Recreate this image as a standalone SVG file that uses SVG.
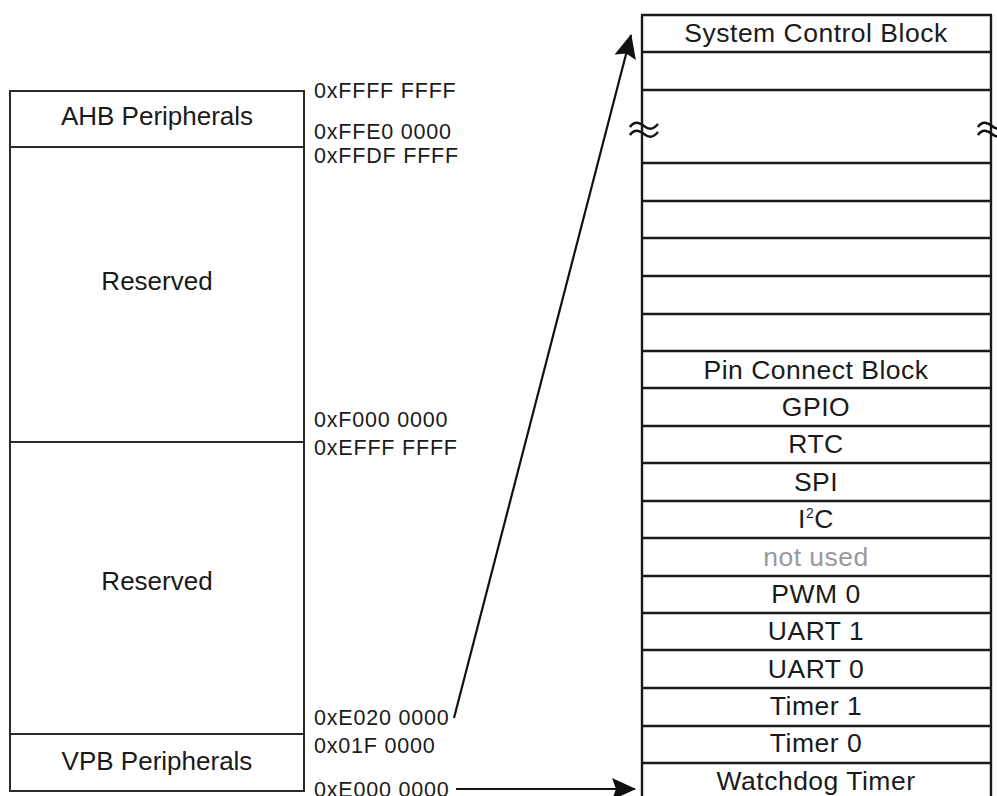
<svg xmlns="http://www.w3.org/2000/svg" width="997" height="796" viewBox="0 0 997 796">
<defs>
<style>
.box{fill:#fff;stroke:#2a2a2a;stroke-width:2}
.ln{stroke:#1a1a1a;stroke-width:2.4;fill:none}
.lbl{font-family:"Liberation Sans",Arial,sans-serif;font-size:26px;fill:#1a1a1a;text-anchor:middle}
.rl{font-family:"Liberation Sans",Arial,sans-serif;font-size:26.5px;fill:#1a1a1a;text-anchor:middle;letter-spacing:0.5px}
.addr{font-family:"Liberation Sans",Arial,sans-serif;font-size:21.5px;fill:#1a1a1a;letter-spacing:0.8px}
.gray{fill:#999}
.wave{stroke:#111;stroke-width:2.6;fill:none}
.conn{stroke:#111;stroke-width:2.2;fill:none}
</style>
<marker id="ah" markerUnits="userSpaceOnUse" viewBox="0 0 24 22" refX="23" refY="11" markerWidth="24" markerHeight="22" orient="auto">
<path d="M0,0 L24,11 L0,22 L4,11 z" fill="#111"/>
</marker>
</defs>
<rect width="997" height="796" fill="#fff"/>

<!-- Left memory map -->
<g id="ahb">
<rect class="box" x="10" y="91" width="294" height="56"/>
<text class="lbl" x="157" y="125">AHB Peripherals</text>
</g>
<g id="reserved1">
<rect class="box" x="10" y="147" width="294" height="295"/>
<text class="lbl" x="157" y="290">Reserved</text>
</g>
<g id="reserved2">
<rect class="box" x="10" y="442" width="294" height="292"/>
<text class="lbl" x="157" y="590">Reserved</text>
</g>
<g id="vpb">
<rect class="box" x="10" y="734" width="294" height="57"/>
<text class="lbl" x="157" y="770">VPB Peripherals</text>
</g>

<g id="addresses">
<text class="addr" x="314" y="98">0xFFFF FFFF</text>
<text class="addr" x="314" y="139">0xFFE0 0000</text>
<text class="addr" x="314" y="163">0xFFDF FFFF</text>
<text class="addr" x="314" y="427">0xF000 0000</text>
<text class="addr" x="314" y="455">0xEFFF FFFF</text>
<text class="addr" x="314" y="725">0xE020 0000</text>
<text class="addr" x="314" y="753">0x01F 0000</text>
<text class="addr" x="314" y="797">0xE000 0000</text>
</g>

<!-- Right VPB map -->
<g id="vpbmap">
<line class="ln" x1="642" y1="15" x2="642" y2="796"/>
<line class="ln" x1="991" y1="15" x2="991" y2="796"/>
<line class="ln" x1="641" y1="15" x2="992" y2="15"/>
<line class="ln" x1="641" y1="52" x2="992" y2="52"/>
<line class="ln" x1="641" y1="90" x2="992" y2="90"/>
<line class="ln" x1="641" y1="163" x2="992" y2="163"/>
<line class="ln" x1="641" y1="201" x2="992" y2="201"/>
<line class="ln" x1="641" y1="238" x2="992" y2="238"/>
<line class="ln" x1="641" y1="276" x2="992" y2="276"/>
<line class="ln" x1="641" y1="314" x2="992" y2="314"/>
<line class="ln" x1="641" y1="351" x2="992" y2="351"/>
<line class="ln" x1="641" y1="388" x2="992" y2="388"/>
<line class="ln" x1="641" y1="426" x2="992" y2="426"/>
<line class="ln" x1="641" y1="463" x2="992" y2="463"/>
<line class="ln" x1="641" y1="501" x2="992" y2="501"/>
<line class="ln" x1="641" y1="538" x2="992" y2="538"/>
<line class="ln" x1="641" y1="576" x2="992" y2="576"/>
<line class="ln" x1="641" y1="613" x2="992" y2="613"/>
<line class="ln" x1="641" y1="650" x2="992" y2="650"/>
<line class="ln" x1="641" y1="688" x2="992" y2="688"/>
<line class="ln" x1="641" y1="726" x2="992" y2="726"/>
<line class="ln" x1="641" y1="763" x2="992" y2="763"/>
<path class="wave" d="M630,127 c4,-6 9,-5 14,-1 s9,4 14,-2"/>
<path class="wave" d="M630,135 c4,-6 9,-5 14,-1 s9,4 14,-2"/>
<path class="wave" d="M978,127 c4,-6 9,-5 14,-1 s9,4 14,-2"/>
<path class="wave" d="M978,135 c4,-6 9,-5 14,-1 s9,4 14,-2"/>
</g>
<g id="scb"><text class="rl" x="816" y="42">System Control Block</text></g>
<g id="pinconnect"><text class="rl" x="816" y="379">Pin Connect Block</text></g>
<g id="gpio"><text class="rl" x="816" y="416">GPIO</text></g>
<g id="rtc"><text class="rl" x="816" y="453">RTC</text></g>
<g id="spi"><text class="rl" x="816" y="491">SPI</text></g>
<g id="i2c"><text class="rl" x="816" y="528">I<tspan font-size="14" dy="-10">2</tspan><tspan dy="10">C</tspan></text></g>
<g id="notused"><text class="rl gray" x="816" y="566">not used</text></g>
<g id="pwm0"><text class="rl" x="816" y="603">PWM 0</text></g>
<g id="uart1"><text class="rl" x="816" y="640">UART 1</text></g>
<g id="uart0"><text class="rl" x="816" y="678">UART 0</text></g>
<g id="timer1"><text class="rl" x="816" y="715">Timer 1</text></g>
<g id="timer0"><text class="rl" x="816" y="752">Timer 0</text></g>
<g id="watchdog"><text class="rl" x="816" y="790">Watchdog Timer</text></g>

<g id="connectors">
<line class="conn" x1="454" y1="718" x2="631" y2="35" marker-end="url(#ah)"/>
<line class="conn" x1="456" y1="789" x2="635" y2="789" marker-end="url(#ah)"/>
</g>
</svg>
